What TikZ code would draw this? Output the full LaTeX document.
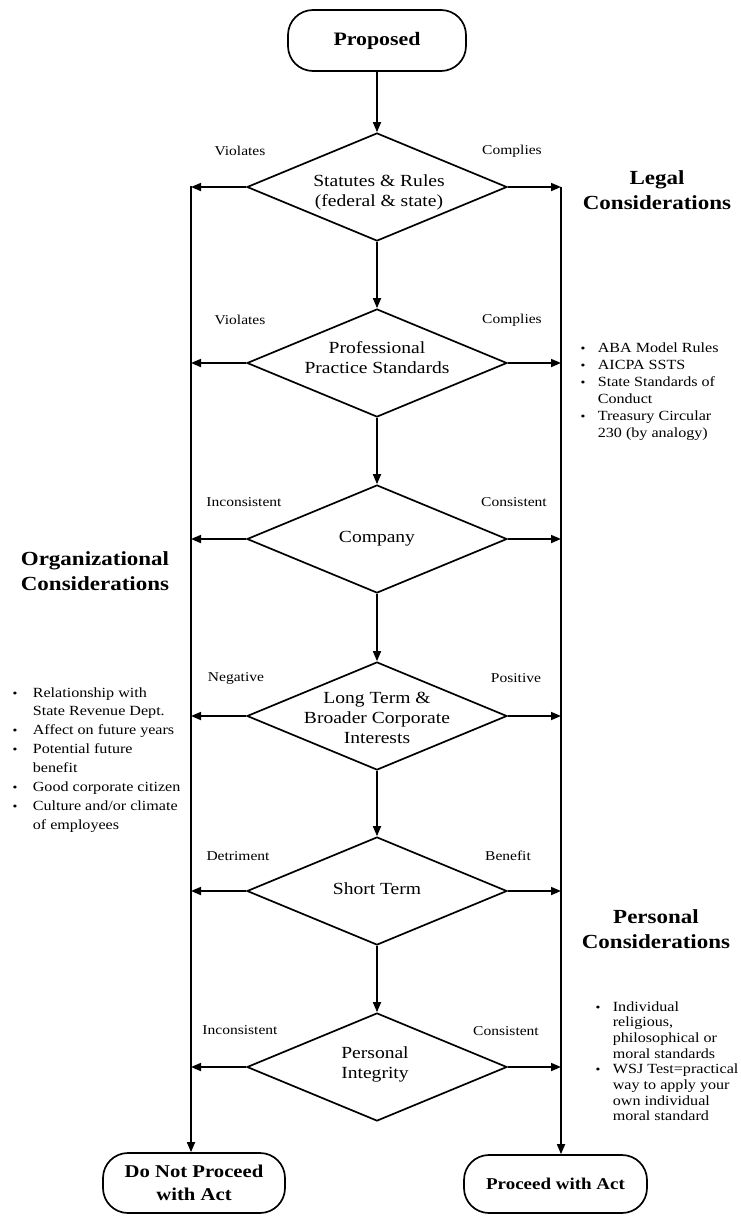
\documentclass[tikz,border=0pt]{standalone}
\usepackage{fontspec}
\setmainfont{Liberation Serif}[FakeStretch=1.15]
\usetikzlibrary{shapes.geometric,arrows.meta}
\begin{document}
\begin{tikzpicture}[x=1pt,y=-1pt,line width=1.7pt,
  arr/.style={-{Triangle[length=10pt,width=8pt]}},
  term/.style={draw,rounded corners=25pt,inner sep=0pt,align=center,font=\bfseries\fontsize{18}{23}\selectfont},
  dia/.style={draw,diamond,minimum width=260pt,minimum height=108pt,inner sep=0pt},
  dtext/.style={align=center,inner sep=0pt,font=\fontsize{17}{20}\selectfont},
  lab/.style={inner sep=0pt,font=\fontsize{13.5}{15}\selectfont},
  head/.style={align=center,inner sep=0pt,font=\bfseries\fontsize{20}{25}\selectfont},
  item/.style={inner sep=0pt,anchor=base west,font=\fontsize{14}{16}\selectfont},
  bul/.style={inner sep=0pt,anchor=base,font=\fontsize{12}{16}\selectfont},
]
\fill[white] (0,0) rectangle (741,1216);
\useasboundingbox (0,0) rectangle (741,1216);

% terminals
\node[term,minimum width=178pt,minimum height=61pt,font=\bfseries\fontsize{19}{23}\selectfont] (prop) at (377,40.5) {Proposed};
\node[term,minimum width=182pt,minimum height=60pt] (dnp) at (194,1183) {Do Not Proceed\\with Act};
\node[term,minimum width=183pt,minimum height=58pt,font=\bfseries\fontsize{16.5}{20}\selectfont] (pwa) at (555.5,1184) {Proceed with Act};

% decisions
\node[dia] (d1) at (377,187) {};
\node[dia] (d2) at (377,363) {};
\node[dia] (d3) at (377,539) {};
\node[dia] (d4) at (377,716) {};
\node[dia] (d5) at (377,891) {};
\node[dia] (d6) at (377,1067) {};

\node[dtext] (t1) at (379,192) {Statutes \& Rules\\(federal \& state)};
\node[dtext] (t2) at (377,358) {Professional\\Practice Standards};
\node[dtext] (t3) at (377,539) {Company};
\node[dtext] (t4) at (377,718) {Long Term \&\\Broader Corporate\\Interests};
\node[dtext] (t5) at (377,889) {Short Term};
\node[dtext] (t6) at (375,1064) {Personal\\Integrity};

% side rails
\coordinate (lt) at (191,186);
\coordinate (rt) at (561,187);
\draw[arr] (lt) -- (lt |- dnp.north);
\draw[arr] (rt) -- (rt |- pwa.north);

% flow
\draw[arr] (prop.south) -- (d1.north);
\draw[arr] (d1.south) -- (d2.north);
\draw[arr] (d2.south) -- (d3.north);
\draw[arr] (d3.south) -- (d4.north);
\draw[arr] (d4.south) -- (d5.north);
\draw[arr] (d5.south) -- (d6.north);

\foreach \d in {d1,d2,d3,d4,d5,d6}{
  \draw[arr] (\d.west) -- (\d.west -| lt);
  \draw[arr] (\d.east) -- (\d.east -| rt);
}

% branch labels
\node[lab] (l1) at (240,151) {Violates};
\node[lab] (r1) at (512,151) {Complies};
\node[lab] (l2) at (240,320) {Violates};
\node[lab] (r2) at (512,320) {Complies};
\node[lab] (l3) at (244,502) {Inconsistent};
\node[lab] (r3) at (514,502) {Consistent};
\node[lab] (l4) at (236,678) {Negative};
\node[lab] (r4) at (516,678) {Positive};
\node[lab] (l5) at (238,856) {Detriment};
\node[lab] (r5) at (508,856) {Benefit};
\node[lab] (l6) at (240,1030) {Inconsistent};
\node[lab] (r6) at (506,1031) {Consistent};

% headings
\node[head] (hlegal) at (657,190) {Legal\\Considerations};
\node[head] (horg) at (95,571) {Organizational\\Considerations};
\node[head] (hpers) at (656,929) {Personal\\Considerations};

% legal list
\foreach \t [count=\i from 0] in {ABA Model Rules, AICPA SSTS, State Standards of, Conduct, Treasury Circular, 230 (by analogy)}
  \node[item] (leg\i) at (597,{352+17*\i}) {\t};
\foreach \i in {0,1,2,4}
  \node[bul] (legb\i) at (583,{352+17*\i}) {\textbullet};

% organizational list
\foreach \t [count=\i from 0] in {Relationship with, State Revenue Dept., Affect on future years, Potential future, benefit, Good corporate citizen, Culture and/or climate, of employees}
  \node[item] (org\i) at (32,{697+18.9*\i}) {\t};
\foreach \i in {0,2,3,5,6}
  \node[bul] (orgb\i) at (15,{697+18.9*\i}) {\textbullet};

% personal list
\foreach \t [count=\i from 0] in {Individual, {religious,}, philosophical or, moral standards, WSJ Test=practical, way to apply your, own individual, moral standard}
  \node[item] (per\i) at (612,{1011+15.7*\i}) {\t};
\foreach \i in {0,4}
  \node[bul] (perb\i) at (598,{1011+15.7*\i}) {\textbullet};
\end{tikzpicture}
\end{document}
